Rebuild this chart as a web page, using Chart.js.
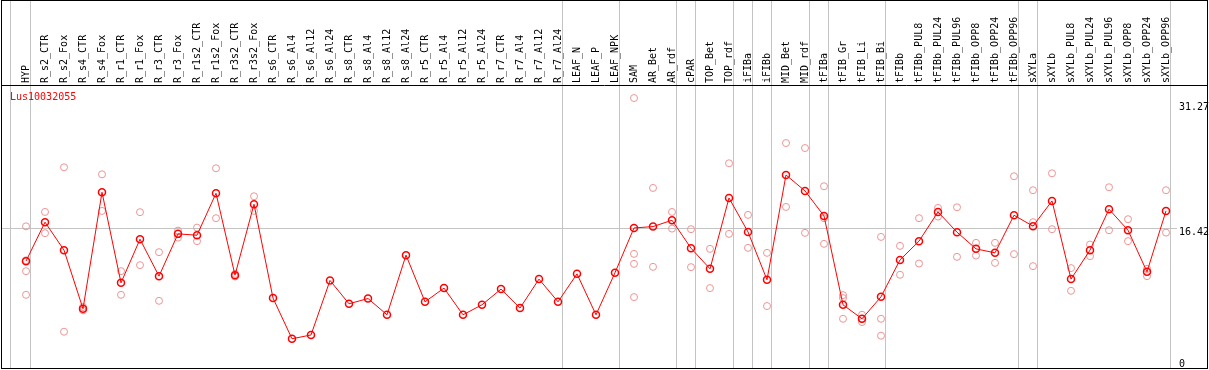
<!DOCTYPE html>
<html>
<head>
<meta charset="utf-8">
<script src="https://cdn.jsdelivr.net/npm/chart.js@4/dist/chart.umd.min.js"></script>
<style>
  html, body { margin: 0; padding: 0; background: #fff; }
  canvas { display: block; }
</style>
</head>
<body>
<canvas id="expr" width="1209" height="370"></canvas>
<script>
// sample names (x categories)
const samples = [
    'HYP', 'R_s2_CTR', 'R_s2_Fox', 'R_s4_CTR', 'R_s4_Fox', 'R_r1_CTR', 'R_r1_Fox',
    'R_r3_CTR', 'R_r3_Fox', 'R_r1s2_CTR', 'R_r1s2_Fox', 'R_r3s2_CTR', 'R_r3s2_Fox',
    'R_s6_CTR', 'R_s6_Al4', 'R_s6_Al12', 'R_s6_Al24', 'R_s8_CTR', 'R_s8_Al4',
    'R_s8_Al12', 'R_s8_Al24', 'R_r5_CTR', 'R_r5_Al4', 'R_r5_Al12', 'R_r5_Al24',
    'R_r7_CTR', 'R_r7_Al4', 'R_r7_Al12', 'R_r7_Al24', 'LEAF_N', 'LEAF_P', 'LEAF_NPK',
    'SAM', 'AR_Bet', 'AR_rdf', 'cPAR', 'TOP_Bet', 'TOP_rdf', 'iFIBa', 'iFIBb',
    'MID_Bet', 'MID_rdf', 'tFIBa', 'tFIB_Gr', 'tFIB_Li', 'tFIB_Bi', 'tFIBb',
    'tFIBb_PUL8', 'tFIBb_PUL24', 'tFIBb_PUL96', 'tFIBb_OPP8', 'tFIBb_OPP24', 'tFIBb_OPP96',
    'sXYLa', 'sXYLb', 'sXYLb_PUL8', 'sXYLb_PUL24', 'sXYLb_PUL96', 'sXYLb_OPP8',
    'sXYLb_OPP24', 'sXYLb_OPP96'
];

// mean expression per sample
const means = [
    12.61, 17.21, 13.91, 6.99, 20.74, 10.05, 15.2, 10.84, 15.83, 15.67, 20.62, 10.96, 19.33,
    8.25, 3.45, 3.9, 10.33, 7.58, 8.2, 6.28, 13.32, 7.81, 9.43, 6.28, 7.46, 9.31, 7.07,
    10.49, 7.81, 11.11, 6.28, 11.25,
    16.53, 16.69, 17.44, 14.14, 11.7, 20.07, 16.06, 10.41, 22.78, 20.9, 17.95, 7.46, 5.81,
    8.4, 12.76, 14.97, 18.42, 16.03, 14.06, 13.59, 18.03, 16.74, 19.72, 10.49, 13.91,
    18.74, 16.26, 11.35, 18.54
];

// replicate values (null = no replicate)
const _ = null;
const rep1 = [
    16.72, 18.42, 23.69, 7.2, 22.86, 11.43, 18.39, 13.67, 16.22, 16.57, 23.57, 11.11, 20.27,
    _, _, _, _, _, _, _, _, _, _, _, _, _, _, _, _, _, _, _,
    31.86, 21.25, 18.42, 16.38, 14.06, 24.16, 18.07, 13.59, 26.55, 25.96, 21.45, 8.6, 6.28,
    15.47, 14.41, 17.68, 18.89, 18.97, 14.77, 14.77, 22.63, 20.98, 22.98, 11.79, 14.57,
    21.33, 17.56, 11.7, 20.98
];
const rep2 = [
    12.71, 15.91, 4.28, 6.8, 18.54, 8.64, 12.14, 7.93, 15.39, 14.97, 17.68, 10.8, 18.54,
    _, _, _, _, _, _, _, _, _, _, _, _, _, _, _, _, _, _, _,
    13.47, 11.94, 16.45, 11.9, 9.43, 15.83, 14.18, 7.31, 19.01, 15.95, 17.68, 8.25, 5.42,
    5.81, 11.0, 12.33, 17.87, 13.12, 13.27, 12.41, 13.44, 17.21, 16.38, 9.11, 13.2,
    16.26, 14.97, 10.84, 15.98
];
const rep3 = [
    11.43, _, _, _, _, _, _, _, _, _, _, _, _,
    _, _, _, _, _, _, _, _, _, _, _, _, _, _, _, _, _, _, _,
    12.29, _, _, _, _, _, _, _, _, _, 14.65, 5.81, 5.8,
    3.81, _, _, _, _, _, _, _, 12.02, _, _, _,
    _, _, _, _
];
const rep4 = [
    8.64, _, _, _, _, _, _, _, _, _, _, _, _,
    _, _, _, _, _, _, _, _, _, _, _, _, _, _, _, _, _, _, _,
    8.37, _, _, _, _, _, _, _, _, _, _, _, _,
    _, _, _, _, _, _, _, _, _, _, _, _,
    _, _, _, _
];

// index of last sample in each group (grey separator after it)
const groupEnds = [0, 28, 31, 34, 35, 37, 38, 39, 41, 42, 45, 52, 53, 60];
const yTicks = [0, 16.42, 31.27];
const geneName = 'Lus10032055';

const monoFont = { family: 'DejaVu Sans Mono', size: 10 };

// separator positions sit a quarter step right of the group end
const separators = [-0.79].concat(groupEnds.map(i => i + 0.25));
const isSep = v => separators.some(s => Math.abs(s - v) < 1e-6);

const meanPoints = means.map((y, i) => ({ x: i, y: y }));
const repPoints = [];
[rep1, rep2, rep3, rep4].forEach(r => {
    r.forEach((y, i) => { if (y !== null) repPoints.push({ x: i, y: y }); });
});

// frame and gene name
const framePlugin = {
    id: 'frame',
    afterDraw(chart) {
        const c = chart.ctx;
        const a = chart.chartArea;
        c.save();
        c.strokeStyle = '#000';
        c.lineWidth = 1;
        c.strokeRect(1.5, 0.5, chart.width - 3, a.bottom);
        c.beginPath();
        c.moveTo(1, a.top + 0.5);
        c.lineTo(chart.width - 1, a.top + 0.5);
        c.stroke();
        c.fillStyle = '#ff0000';
        c.font = '10px "DejaVu Sans Mono"';
        c.textBaseline = 'middle';
        c.fillText(geneName, a.left + 9, a.top + 12);
        c.restore();
    }
};

new Chart(document.getElementById('expr'), {
    type: 'line',
    data: {
        datasets: [
            {
                data: meanPoints,
                borderColor: '#ff0000',
                borderWidth: 1,
                pointRadius: 3.5,
                pointBorderWidth: 1.5,
                pointBorderColor: '#ff0000',
                pointBackgroundColor: 'rgba(0,0,0,0)',
                tension: 0,
                order: 0
            },
            {
                data: repPoints,
                showLine: false,
                pointRadius: 3.5,
                pointBorderWidth: 1,
                pointBorderColor: '#ee9494',
                pointBackgroundColor: 'rgba(0,0,0,0)',
                order: 1
            }
        ]
    },
    options: {
        responsive: false,
        devicePixelRatio: 1,
        animation: false,
        layout: {
            autoPadding: false,
            padding: { left: 1, right: 0, top: 0, bottom: 2 }
        },
        plugins: {
            legend: { display: false },
            tooltip: { enabled: false },
            title: { display: false }
        },
        scales: {
            x: {
                type: 'linear',
                position: 'top',
                min: -25 / 19,
                max: 1151 / 19,
                afterBuildTicks: s => {
                    s.ticks = samples.map((n, i) => ({ value: i }))
                        .concat(separators.map(v => ({ value: v })))
                        .sort((a, b) => a.value - b.value);
                },
                afterFit: s => {
                    s.height = 85;
                    s.paddingLeft = 0;
                    s.paddingRight = 0;
                },
                ticks: {
                    autoSkip: false,
                    maxRotation: 90,
                    minRotation: 90,
                    padding: -83,
                    labelOffset: 12,
                    font: monoFont,
                    color: '#000',
                    callback: v => Number.isInteger(v) ? samples[v] : ''
                },
                grid: {
                    color: ctx => ctx.tick && isSep(ctx.tick.value) ? '#c4c4c4' : 'rgba(0,0,0,0)',
                    tickLength: 85,
                    lineWidth: 1
                },
                border: { display: false }
            },
            y: {
                position: 'right',
                min: 0,
                max: 33.4,
                afterBuildTicks: s => { s.ticks = yTicks.map(v => ({ value: v })); },
                afterFit: s => {
                    s.width = 32;
                    s.paddingTop = 0;
                    s.paddingBottom = 0;
                },
                ticks: {
                    padding: 2,
                    font: { family: 'DejaVu Sans Mono', size: 10, lineHeight: 0.8 },
                    color: '#000',
                    callback: v => v === 0 ? ['0', ''] : ['', String(v)]
                },
                grid: {
                    color: ctx => ctx.tick && ctx.tick.value === 16.42 ? '#c4c4c4' : 'rgba(0,0,0,0)',
                    drawTicks: false
                },
                border: { display: false }
            }
        }
    },
    plugins: [framePlugin]
});
</script>
</body>
</html>
